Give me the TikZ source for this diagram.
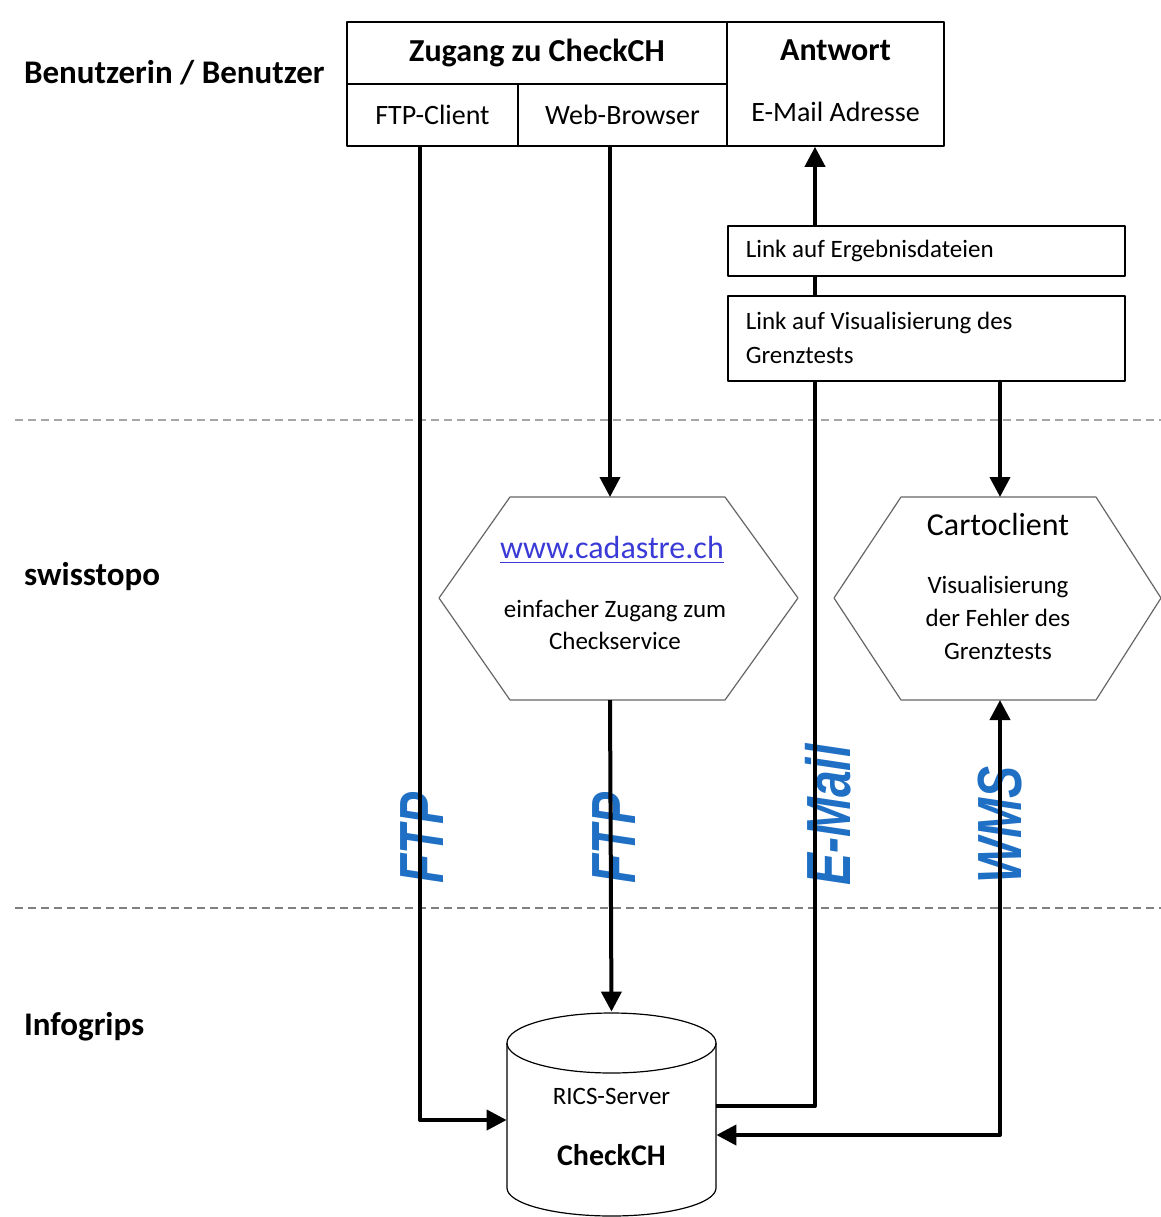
\documentclass[tikz,border=0pt]{standalone}
\usepackage{fontspec}
\setmainfont{Carlito}
\newfontfamily\protofont{Liberation Sans}
\usetikzlibrary{arrows.meta,positioning}
\definecolor{protoblue}{HTML}{1F6FC5}
\definecolor{urlblue}{HTML}{3A3AD6}
\newcommand{\protolabel}[1]{\scalebox{1}[1.3]{#1}}
\begin{document}
\begin{tikzpicture}[x=0.5pt,y=-0.5pt,line join=round,
	flow/.style={line width=2pt,-{Triangle[length=10pt,width=10pt]}},
	flowboth/.style={line width=2pt,{Triangle[length=10pt,width=10pt]}-{Triangle[length=10pt,width=10pt]}},
	cell/.style={draw,line width=0.8pt,inner sep=0pt,font=\fontsize{14}{16}\selectfont},
	linkbox/.style={draw,line width=0.8pt,fill=white,anchor=north west,minimum width=198.5pt,
		text width=180.5pt,inner xsep=9pt,align=flush left,font=\fontsize{12.5}{17}\selectfont},
	txt/.style={font=\fontsize{12.5}{16}\selectfont},
	proto/.style={rotate=90,font=\protofont\bfseries\itshape\fontsize{24}{24}\selectfont,text=protoblue},
	lane/.style={anchor=west,font=\bfseries\fontsize{16.5}{18}\selectfont},
	sep/.style={dashed,dash pattern=on 4pt off 2.5pt,line width=0.8pt}]
	\useasboundingbox (0,0) rectangle (1161,1217);
	% lanes
	\node[lane] (user) at (17,73) {Benutzerin / Benutzer};
	\node[lane] (topo) at (17,577) {swisstopo};
	\node[lane] (grips) at (17,1027) {Infogrips};
	\draw[sep,gray!70] (15,420) -- (1161,420);
	\draw[sep,gray] (15,908) -- (1161,908);
	% top table
	\node[cell,minimum width=190pt,minimum height=31pt,font=\bfseries\fontsize{16}{18}\selectfont] (zug) at (537,53) {Zugang zu CheckCH};
	\node[cell,minimum width=85.5pt,minimum height=31pt] (ftp) at (432.5,115) {FTP-Client};
	\node[cell,minimum width=104.5pt,minimum height=31pt] (web) at (622.5,115) {Web-Browser};
	\node[cell,minimum width=108.5pt,minimum height=62pt] (antw) at (835.5,84) {};
	\node[font=\bfseries\fontsize{16}{18}\selectfont] (antwtitle) at (835.5,50) {Antwort};
	\node[font=\fontsize{14}{16}\selectfont] (mail) at (835.5,112) {E-Mail Adresse};
	% database
	\node[minimum width=104.5pt,minimum height=101.5pt,inner sep=0pt] (db) at (611.5,1113.5) {};
	\draw[line width=0.6pt] (611.5,1043) ellipse [x radius=52.25pt,y radius=15pt];
	\draw[line width=0.6pt] (507,1043) -- (507,1188)
		.. controls (507,1203.5) and (553.8,1216) .. (611.5,1216)
		.. controls (669.2,1216) and (716,1203.5) .. (716,1188) -- (716,1043);
	\node[txt] (rics) at (611.5,1096) {RICS-Server};
	\node[font=\bfseries\fontsize{15}{17}\selectfont] (check) at (611.5,1155) {CheckCH};
	% hexagons
	\draw[line width=0.6pt,gray!80!black] (439,598) -- (510,497) -- (725,497) -- (798,598) -- (725,700) -- (510,700) -- cycle;
	\coordinate (cadtop) at (610,497);
	\coordinate (cadbot) at (610,700);
	\node[font=\fontsize{16}{18}\selectfont,text=urlblue] (cad) at (612,550) {\underline{www.cadastre.ch}};
	\node[txt,align=center] (cadtxt) at (615,625) {einfacher Zugang zum\\Checkservice};
	\draw[line width=0.6pt,gray!80!black] (834,598) -- (901,497) -- (1096,497) -- (1161,598) -- (1096,700) -- (901,700) -- cycle;
	\coordinate (cartop) at (1000,497);
	\coordinate (carbot) at (1000,700);
	\node[font=\fontsize{16}{18}\selectfont] (carto) at (998,524) {Cartoclient};
	\node[txt,align=center,font=\fontsize{12.5}{16.5}\selectfont] (cartotxt) at (998,618) {Visualisierung\\der Fehler des\\Grenztests};
	% protocols
	\node[proto] (pftp) at (422,838) {\protolabel{FTP}};
	\node[proto] (pweb) at (614,838) {\protolabel{FTP}};
	\node[proto] (pmail) at (828,815) {\protolabel{E-Mail}};
	\node[proto] (pwms) at (1000,825) {\protolabel{WMS}};
	% connectors
	\draw[flow] ([xshift=-6.25pt]ftp.south) |- ([yshift=-3.25pt]db.west);
	\draw[flow] ([xshift=-6.25pt]web.south) -- (cadtop);
	\draw[flow] (cadbot) -- (db.north);
	\draw[flow] ([yshift=3.75pt]db.east) -| ([xshift=-10.25pt]antw.south);
	\draw[flowboth] (carbot) |- ([yshift=-10.75pt]db.east);
	% result boxes
	\node[linkbox,minimum height=25pt] (lres) at (727,225) {Link auf Ergebnisdateien};
	\node[linkbox,minimum height=42.5pt] (lvis) at (727,295) {Link auf Visualisierung des\\Grenztests};
	\draw[flow] (lvis.south -| cartop) -- (cartop);
\end{tikzpicture}
\end{document}
